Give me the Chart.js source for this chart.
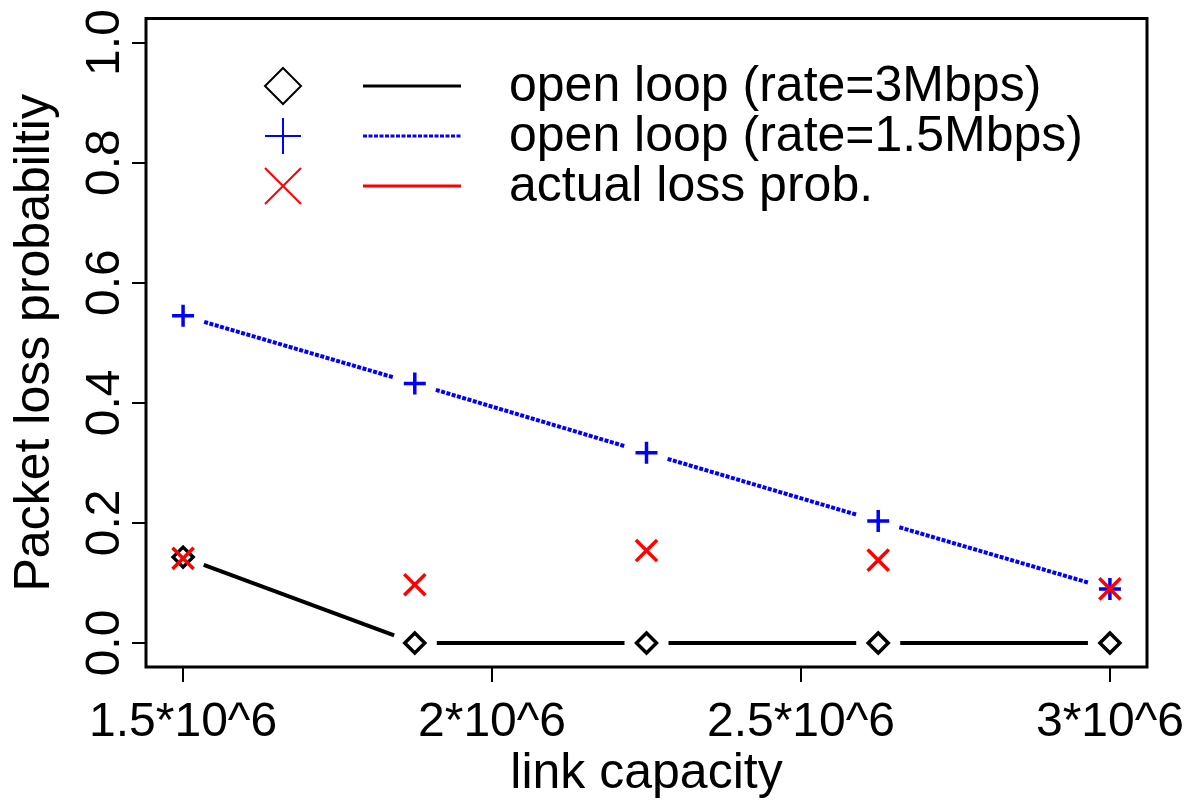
<!DOCTYPE html>
<html>
<head>
<meta charset="utf-8">
<script src="https://cdn.jsdelivr.net/npm/chart.js@4.4.1/dist/chart.umd.min.js"></script>
<style>
  html, body { margin: 0; padding: 0; background: #fff; }
</style>
</head>
<body>
<canvas id="lossChart" width="1192" height="808"></canvas>
<script>
// link capacity (bps) and loss probabilities
const capacities = [1.5e6, 1.875e6, 2.25e6, 2.625e6, 3e6];
const openLoop3 = [0.143, 0, 0, 0, 0];
const openLoop15 = [0.545, 0.432, 0.317, 0.203, 0.090];
const actualLoss = [0.141, 0.097, 0.154, 0.138, 0.090];

const seriesNames = ['open loop (rate=3Mbps)', 'open loop (rate=1.5Mbps)', 'actual loss prob.'];

const xTicks = [1.5e6, 2e6, 2.5e6, 3e6];
const xTickLabels = ['1.5*10^6', '2*10^6', '2.5*10^6', '3*10^6'];
const yTicks = [0, 0.2, 0.4, 0.6, 0.8, 1.0];
const yTickLabels = ['0.0', '0.2', '0.4', '0.6', '0.8', '1.0'];

const FONT = '"Liberation Sans", Arial, Helvetica, sans-serif';
const GAP = 22; // R type="b" gap round each marker

const toPoints = ys => capacities.map((x, i) => ({ x: x, y: ys[i] }));

// 흰 배경, 끊긴 선, 박스, 회전된 라벨, 범례
const rPlot = {
    id: 'rPlot',
    beforeDraw(chart) {
        const ctx = chart.ctx;
        ctx.save();
        ctx.fillStyle = '#fff';
        ctx.fillRect(0, 0, chart.width, chart.height);
        ctx.restore();
    },
    beforeDatasetsDraw(chart) {
        const ctx = chart.ctx;
        chart.data.datasets.forEach((ds, i) => {
            if (!ds.linkLine) return;
            const pts = chart.getDatasetMeta(i).data;
            ctx.save();
            ctx.strokeStyle = ds.borderColor;
            ctx.lineWidth = ds.lineWidthR;
            ctx.setLineDash(ds.dashR || []);
            for (let k = 0; k < pts.length - 1; k++) {
                const a = pts[k], b = pts[k + 1];
                const dx = b.x - a.x, dy = b.y - a.y;
                const len = Math.hypot(dx, dy);
                if (len <= 2 * GAP) continue;
                const ux = dx / len, uy = dy / len;
                ctx.beginPath();
                ctx.moveTo(a.x + ux * GAP, a.y + uy * GAP);
                ctx.lineTo(b.x - ux * GAP, b.y - uy * GAP);
                ctx.stroke();
            }
            ctx.restore();
        });
    },
    afterDraw(chart) {
        const ctx = chart.ctx;
        const area = chart.chartArea;
        const yScale = chart.scales.y;

        // plot box
        ctx.save();
        ctx.strokeStyle = '#000';
        ctx.lineWidth = 3;
        ctx.strokeRect(area.left, area.top, area.right - area.left, area.bottom - area.top);

        // y tick labels, rotated like R (las=0)
        ctx.fillStyle = '#000';
        ctx.font = '48px ' + FONT;
        ctx.textAlign = 'center';
        ctx.textBaseline = 'alphabetic';
        yTicks.forEach((v, i) => {
            const py = yScale.getPixelForValue(v);
            ctx.save();
            ctx.translate(119, py);
            ctx.rotate(-Math.PI / 2);
            ctx.fillText(yTickLabels[i], 0, 0);
            ctx.restore();
        });

        // axis titles
        ctx.font = '50px ' + FONT;
        ctx.save();
        ctx.translate(49, (area.top + area.bottom) / 2);
        ctx.rotate(-Math.PI / 2);
        ctx.fillText('Packet loss probabiltiy', 0, 0);
        ctx.restore();
        ctx.fillText('link capacity', (area.left + area.right) / 2, 788);

        // legend (no box)
        chart.data.datasets.forEach((ds, i) => {
            const ry = 86 + i * 50;
            const sx = 283;
            ctx.save();
            ctx.strokeStyle = ds.borderColor;
            ctx.lineWidth = 2;
            ctx.beginPath();
            if (ds.pointStyle === 'rectRot') {
                const r = 18;
                ctx.moveTo(sx, ry - r); ctx.lineTo(sx + r, ry);
                ctx.lineTo(sx, ry + r); ctx.lineTo(sx - r, ry);
                ctx.closePath();
            } else if (ds.pointStyle === 'cross') {
                const r = 18;
                ctx.moveTo(sx - r, ry); ctx.lineTo(sx + r, ry);
                ctx.moveTo(sx, ry - r); ctx.lineTo(sx, ry + r);
            } else {
                const r = 18;
                ctx.moveTo(sx - r, ry - r); ctx.lineTo(sx + r, ry + r);
                ctx.moveTo(sx - r, ry + r); ctx.lineTo(sx + r, ry - r);
            }
            ctx.stroke();
            ctx.lineWidth = 3;
            ctx.setLineDash(ds.dashR || []);
            ctx.beginPath();
            ctx.moveTo(363, ry);
            ctx.lineTo(461, ry);
            ctx.stroke();
            ctx.restore();

            ctx.textAlign = 'left';
            ctx.textBaseline = 'middle';
            ctx.fillText(ds.label, 509, ry + 1);
        });
        ctx.restore();
    }
};

const ctx = document.getElementById('lossChart').getContext('2d');
new Chart(ctx, {
    type: 'scatter',
    data: {
        datasets: [
            {
                label: seriesNames[0],
                data: toPoints(openLoop3),
                borderColor: '#000',
                pointStyle: 'rectRot',
                pointRadius: 10,
                pointBorderWidth: 3.5,
                pointBorderColor: '#000',
                pointBackgroundColor: 'rgba(0,0,0,0)',
                showLine: false,
                linkLine: true,
                lineWidthR: 4,
                order: 2,
            },
            {
                label: seriesNames[1],
                data: toPoints(openLoop15),
                borderColor: '#0000ff',
                pointStyle: 'cross',
                pointRadius: 11,
                pointBorderWidth: 3.5,
                pointBorderColor: '#0000ff',
                showLine: false,
                linkLine: true,
                lineWidthR: 4,
                dashR: [4, 1.5],
                order: 1,
            },
            {
                label: seriesNames[2],
                data: toPoints(actualLoss),
                borderColor: '#ff0000',
                pointStyle: 'crossRot',
                pointRadius: 15,
                pointBorderWidth: 3.5,
                pointBorderColor: '#ff0000',
                showLine: false,
                linkLine: false,
                order: 0,
            },
        ],
    },
    options: {
        responsive: false,
        animation: false,
        events: [],
        layout: {
            padding: { top: 17, right: 45, bottom: 0, left: 0 },
        },
        plugins: {
            legend: { display: false },
            tooltip: { enabled: false },
        },
        scales: {
            x: {
                type: 'linear',
                min: 1.44e6,
                max: 3.06e6,
                afterBuildTicks: (scale) => {
                    scale.ticks = xTicks.map(v => ({ value: v }));
                },
                afterFit: (scale) => {
                    scale.height = 141;
                    scale.paddingLeft = 0;
                    scale.paddingRight = 0;
                },
                ticks: {
                    autoSkip: false,
                    maxRotation: 0,
                    minRotation: 0,
                    padding: 12,
                    color: '#000',
                    font: { family: FONT, size: 48 },
                    callback: (value) => {
                        const i = xTicks.indexOf(value);
                        return i >= 0 ? xTickLabels[i] : '';
                    },
                },
                grid: {
                    drawOnChartArea: false,
                    drawTicks: true,
                    tickLength: 15,
                    color: '#000',
                    lineWidth: 2,
                },
                border: { display: false },
            },
            y: {
                type: 'linear',
                min: -0.04,
                max: 1.04,
                afterBuildTicks: (scale) => {
                    scale.ticks = yTicks.map(v => ({ value: v }));
                },
                afterFit: (scale) => {
                    scale.width = 146;
                    scale.paddingTop = 0;
                    scale.paddingBottom = 0;
                },
                ticks: {
                    color: 'rgba(0,0,0,0)',
                    font: { size: 10 },
                },
                grid: {
                    drawOnChartArea: false,
                    drawTicks: true,
                    tickLength: 14,
                    color: '#000',
                    lineWidth: 2,
                },
                border: { display: false },
            },
        },
    },
    plugins: [rPlot],
});
</script>
</body>
</html>
